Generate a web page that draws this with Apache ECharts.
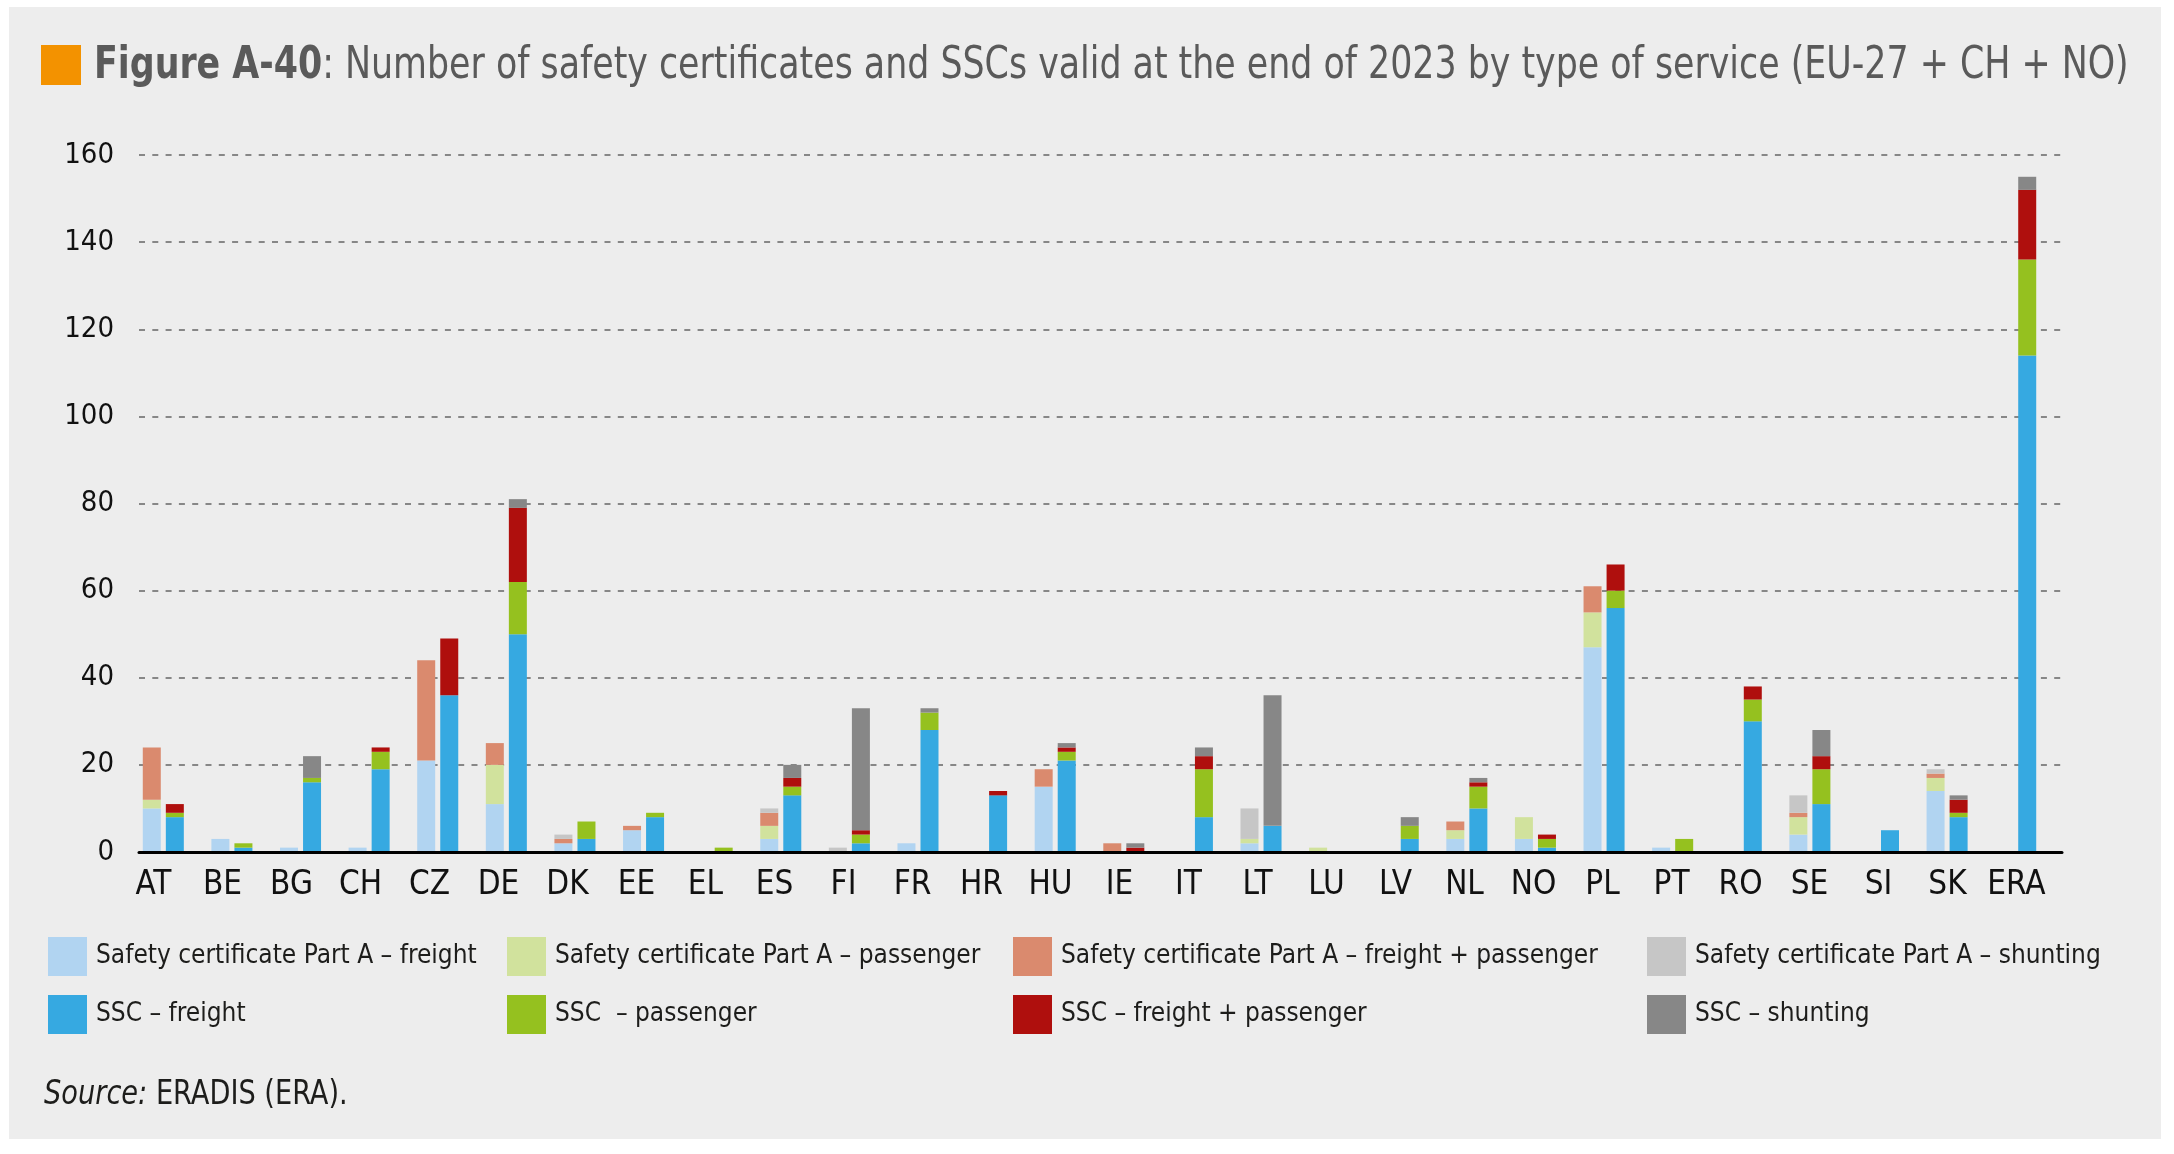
<!DOCTYPE html>
<html>
<head>
<meta charset="utf-8">
<script src="https://cdn.jsdelivr.net/npm/echarts@6/dist/echarts.min.js"></script>
<style>
html,body{margin:0;padding:0;background:#ffffff;}
#chart{width:2174px;height:1154px;}
</style>
</head>
<body>
<div id="chart"></div>
<script>
const categories = ['AT','BE','BG','CH','CZ','DE','DK','EE','EL','ES','FI','FR','HR','HU','IE','IT','LT','LU','LV','NL','NO','PL','PT','RO','SE','SI','SK','ERA'];
const yTicks = [0,20,40,60,80,100,120,140,160];

const partAFreight     = [10,3,1,1,21,11,2,5,0,3,0,2,0,15,0,0,2,0,0,3,3,47,1,0,4,0,14,0];
const partAPassenger   = [2,0,0,0,0,9,0,0,0,3,0,0,0,0,0,0,1,1,0,2,5,8,0,0,4,0,3,0];
const partAFreightPass = [12,0,0,0,23,5,1,1,0,3,0,0,0,4,2,0,0,0,0,2,0,6,0,0,1,0,1,0];
const partAShunting    = [0,0,0,0,0,0,1,0,0,1,1,0,0,0,0,0,7,0,0,0,0,0,0,0,4,0,1,0];

const sscFreight       = [8,1,16,19,36,50,3,8,0,13,2,28,13,21,0,8,6,0,3,10,1,56,0,30,11,5,8,114];
const sscPassenger     = [1,1,1,4,0,12,4,1,1,2,2,4,0,2,0,11,0,0,3,5,2,4,3,5,8,0,1,22];
const sscFreightPass   = [2,0,0,1,13,17,0,0,0,2,1,0,1,1,1,3,0,0,0,1,1,6,0,3,3,0,3,16];
const sscShunting      = [0,0,5,0,0,2,0,0,0,3,28,1,0,1,1,2,30,0,2,1,0,0,0,0,6,0,1,3];

const FONT = "'Liberation Sans Narrow', 'DejaVu Sans Condensed', 'Arial Narrow', sans-serif";

const names = [
  'Safety certificate Part A – freight',
  'Safety certificate Part A – passenger',
  'Safety certificate Part A – freight + passenger',
  'Safety certificate Part A – shunting',
  'SSC – freight',
  'SSC  – passenger',
  'SSC – freight + passenger',
  'SSC – shunting'
];
const colors = ['#B1D4F1','#D1E29D','#DA8A6E','#C6C6C6','#36A9E1','#95C11F','#AF0F0D','#878787'];
const seriesData = [partAFreight, partAPassenger, partAFreightPass, partAShunting,
                    sscFreight, sscPassenger, sscFreightPass, sscShunting];

const chart = echarts.init(document.getElementById('chart'), null, {renderer:'canvas'});

const series = seriesData.map((d, i) => ({
  name: names[i],
  type: 'bar',
  xAxisIndex: 1,
  yAxisIndex: 1,
  stack: i < 4 ? 'A' : 'S',
  barWidth: 18,
  barGap: '28%',
  data: d,
  itemStyle: {color: colors[i]},
  emphasis: {disabled: true}
}));

const legendCol = (items, left) => ({
  data: items,
  orient: 'vertical',
  left: left,
  top: 937,
  padding: 0,
  itemWidth: 39,
  itemHeight: 39,
  itemGap: 19,
  icon: 'rect',
  selectedMode: false,
  textStyle: {fontFamily: FONT, fontSize: 26, color: '#1d1d1b', padding: [0,0,0,4]}
});

const option = {
  backgroundColor: '#ffffff',
  animation: false,
  textStyle: {fontFamily: FONT},
  graphic: [
    {type:'rect', shape:{x:9, y:7, width:2152, height:1132}, style:{fill:'#EDEDED'}, z:-10, silent:true},
    {type:'rect', shape:{x:41, y:45, width:40, height:40}, style:{fill:'#F39200'}, silent:true},
    {type:'text', x:94, y:66, scaleX:0.86, silent:true, style:{
      text:'{b|Figure A-40}{r|: Number of safety certificates and SSCs valid at the end of 2023 by type of service (EU-27 + CH + NO)}',
      verticalAlign:'middle',
      rich:{
        b:{fontFamily:FONT, fontSize:45, fontWeight:'bold', fill:'#5a5a5a', color:'#5a5a5a'},
        r:{fontFamily:FONT, fontSize:45, fill:'#5a5a5a', color:'#5a5a5a'}
      }
    }},
    {type:'text', x:44, y:1095, scaleX:0.89, silent:true, style:{
      text:'{i|Source:}{r| ERADIS (ERA).}',
      verticalAlign:'middle',
      rich:{
        i:{fontFamily:FONT, fontSize:34, fontStyle:'italic', fill:'#1d1d1b', color:'#1d1d1b'},
        r:{fontFamily:FONT, fontSize:34, fill:'#1d1d1b', color:'#1d1d1b'}
      }
    }}
  ],
  legend: [
    legendCol([names[0], names[4]], 48),
    legendCol([names[1], names[5]], 507),
    legendCol([names[2], names[6]], 1013),
    legendCol([names[3], names[7]], 1647)
  ],
  grid: [
    {left:139, top:155, width:1923, height:697},
    {left:129, top:155, width:1921, height:697},
    {left:119, top:155, width:1932, height:697}
  ],
  xAxis: [
    {gridIndex:0, type:'value', min:0, max:1, z:10,
     axisLine:{show:true, onZero:false, lineStyle:{color:'#000000', width:3}},
     axisTick:{show:false}, axisLabel:{show:false}, splitLine:{show:false}},
    {gridIndex:1, type:'category', data:categories, show:false},
    {gridIndex:2, type:'category', data:categories,
     axisLine:{show:false}, axisTick:{show:false}, splitLine:{show:false},
     axisLabel:{show:true, interval:0, margin:17, fontFamily:FONT, fontSize:33, color:'#111111'}}
  ],
  yAxis: [
    {gridIndex:0, type:'value', min:yTicks[0], max:yTicks[yTicks.length-1], interval:yTicks[1]-yTicks[0],
     axisLine:{show:false}, axisTick:{show:false},
     axisLabel:{margin:25, fontFamily:FONT, fontSize:29, color:'#111111'},
     splitLine:{show:true, lineStyle:{color:'#878787', width:2, type:[6,7.3]}}},
    {gridIndex:1, type:'value', min:0, max:160, show:false, splitLine:{show:false}},
    {gridIndex:2, type:'value', min:0, max:160, show:false, splitLine:{show:false}}
  ],
  series: series
};
chart.setOption(option);
</script>
</body>
</html>
